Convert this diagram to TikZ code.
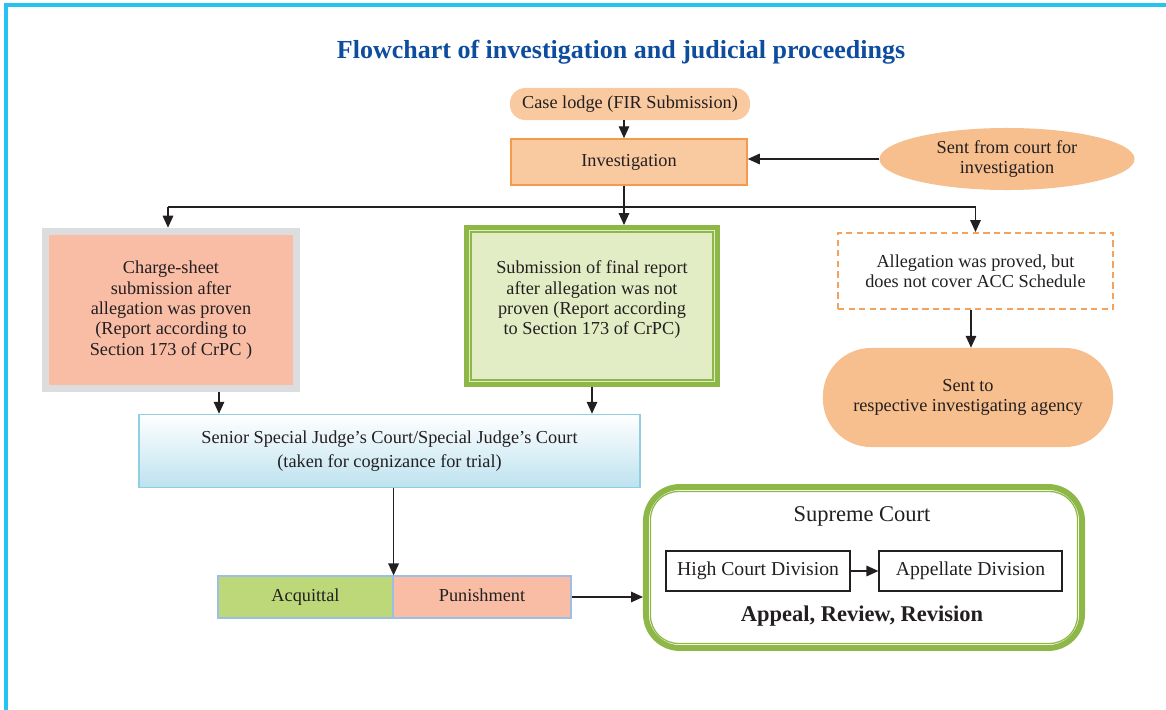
\documentclass[tikz,border=0pt]{standalone}
\usepackage{fontspec}
\setmainfont{Liberation Serif}
\usetikzlibrary{arrows.meta,shapes.geometric}
\definecolor{ink}{HTML}{231F20}
\definecolor{cFrame}{HTML}{25C3F2}
\definecolor{cTitle}{HTML}{0E4C9E}
\definecolor{cPeach}{HTML}{F9C9A0}
\definecolor{cOrange}{HTML}{F39A4C}
\definecolor{cApricot}{HTML}{F7BE8E}
\definecolor{cSalmon}{HTML}{F9BDA6}
\definecolor{cGrey}{HTML}{DCDDDE}
\definecolor{cGreen}{HTML}{8DB848}
\definecolor{cGreenL}{HTML}{E3EDC5}
\definecolor{cLime}{HTML}{BCD878}
\definecolor{cSky}{HTML}{BDE2EF}
\definecolor{cSkyLine}{HTML}{8ECFE1}
\definecolor{cDash}{HTML}{F5A25D}
\definecolor{cCell}{HTML}{9DBFE3}
\begin{document}
\begin{tikzpicture}[x=0.025cm,y=-0.025cm,
  font=\fontsize{13}{14.5}\selectfont, text=ink,
  arr/.style={draw=ink,line width=1pt,-{Triangle[length=8.5pt,width=7.5pt]}},
  link/.style={draw=ink,line width=1pt},
  box/.style={align=center,inner sep=0pt},
  cell/.style={box,draw=cCell,line width=0.8pt,minimum height=1.05cm,
    text height=2ex,text depth=0.5ex},
  plain/.style={box,draw=ink,line width=0.8pt,minimum height=1cm,
    text height=2ex,text depth=0.5ex,font=\fontsize{14}{16}\selectfont}]
\useasboundingbox (0,0) rectangle (1166,710);
\draw[cFrame,line width=2.2pt] (6,710) -- (6,5) -- (1166,5);
\node[font=\fontsize{18.5}{20}\selectfont\bfseries,text=cTitle] (title) at (621,52)
  {Flowchart of investigation and judicial proceedings};
\node[box,fill=cPeach,rounded corners=0.38cm,minimum width=6cm,minimum height=0.8cm]
  (case) at (630,104) {Case lodge (FIR Submission)};
\node[box,fill=cPeach,draw=cOrange,line width=1.1pt,minimum width=5.9cm,minimum height=1.15cm]
  (inv) at (629,162) {Investigation};
\node[box,ellipse,fill=cApricot,minimum width=6.375cm,minimum height=1.55cm]
  (court) at (1007,159) {Sent from court for\\investigation};
\node[box,fill=cSalmon,draw=cGrey,line width=5pt,minimum width=6.29cm,minimum height=3.94cm]
  (charge) at (171,310) {Charge-sheet\\submission after\\allegation was proven\\(Report according to\\Section 173 of CrPC )};
\node[box,fill=cGreenL,draw=cGreen,line width=3.5pt,minimum width=6.275cm,minimum height=3.925cm]
  (final) at (592,306) {Submission of final report\\after allegation was not\\proven (Report according\\to Section 173 of CrPC)\\[-3pt]};
\draw[cGreen,line width=0.9pt] ([shift={(7,7)}]final.north west) rectangle ([shift={(-7,-7)}]final.south east);
\node[box,draw=cDash,line width=1.4pt,dash pattern=on 4.5pt off 3pt,minimum width=6.875cm,minimum height=1.9cm]
  (notacc) at (975.5,271) {Allegation was proved, but\\does not cover ACC Schedule};
\node[box,fill=cApricot,rounded corners=1.2cm,minimum width=7.25cm,minimum height=2.475cm]
  (agency) at (968,397.5) {Sent to\\respective investigating agency};
\node[box,top color=white,bottom color=cSky,draw=cSkyLine,line width=1.1pt,minimum width=12.525cm,minimum height=1.825cm]
  (senior) at (389.5,451) {Senior Special Judge’s Court/Special Judge’s Court\\[3pt](taken for cognizance for trial)};
\node[cell,fill=cLime,minimum width=4.375cm] (acquit) at (305.5,597) {Acquittal};
\node[cell,fill=cSalmon,minimum width=4.45cm] (punish) at (482,597) {Punishment};
\node[draw=cGreen,line width=4.2pt,rounded corners=0.85cm,minimum width=10.9cm,minimum height=4.025cm,inner sep=0pt]
  (supreme) at (864,567.5) {};
\draw[cGreen,line width=0.9pt,rounded corners=0.7cm] ([shift={(7.5,7.5)}]supreme.north west) rectangle ([shift={(-7.5,-7.5)}]supreme.south east);
\node[font=\fontsize{16}{18}\selectfont] (sctitle) at (862,516) {Supreme Court};
\node[plain,minimum width=4.6cm] (high) at (758,571) {High Court Division};
\node[plain,minimum width=4.575cm] (appell) at (970.5,571) {Appellate Division};
\node[font=\fontsize{16}{18}\selectfont\bfseries] (appeal) at (862,616) {Appeal, Review, Revision};
\coordinate (bar) at (0,207);
\draw[arr] (624,0 |- case.south) -- (624,0 |- inv.north);
\draw[arr] (court.west) -- (court.west -| inv.east);
\draw[link] (624,0 |- inv.south) -- (624,0 |- bar);
\draw[link] (168,0 |- bar) -- (notacc.north |- bar);
\draw[arr] (168,0 |- bar) -- (168,0 |- charge.north);
\draw[arr] (notacc.north |- bar) -- (notacc.north);
\draw[arr] (624,0 |- bar) -- (624,0 |- final.north);
\draw[arr] (971,0 |- notacc.south) -- (971,0 |- agency.north);
\draw[arr] (219,0 |- charge.south) -- (219,0 |- senior.north);
\draw[arr] (final.south) -- (final.south |- senior.north);
\draw[arr] (acquit.north east |- senior.south) -- (acquit.north east);
\draw[arr] (punish.east) -- (supreme.west |- punish.east);
\draw[arr] (high.east) -- (appell.west);
\end{tikzpicture}
\end{document}
